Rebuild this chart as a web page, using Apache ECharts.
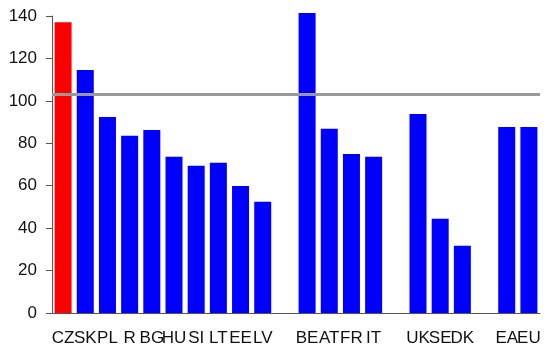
<!DOCTYPE html>
<html>
<head>
<meta charset="utf-8">
<script src="https://cdn.jsdelivr.net/npm/echarts@6/dist/echarts.min.js"></script>
<style>html,body{margin:0;padding:0;background:#fff;}#c{width:544px;height:351px;}</style>
</head>
<body>
<div id="c"></div>
<script>
const categories = ['CZ','SK','PL','R','BG','HU','SI','LT','EE','LV','','BE','AT','FR','IT','','UK','SE','DK','','EA','EU'];
const values = [137.1,114.5,92.4,83.5,86.3,73.6,69.4,70.8,59.9,52.4,null,141.4,86.8,75.0,73.6,null,93.8,44.4,31.7,null,87.7,87.7];
const highlight = 'CZ';
const referenceLevel = 103.3;
const yTicks = [0,20,40,60,80,100,120,140];

const chart = echarts.init(document.getElementById('c'), null, {renderer:'canvas'});
chart.setOption({
  animation:false,
  grid:{left:52,right:4,top:16,bottom:38,containLabel:false},
  xAxis:{
    type:'category',
    data:categories,
    boundaryGap:true,
    axisLine:{show:true,lineStyle:{color:'#555',width:1}},
    axisTick:{show:false},
    axisLabel:{interval:0,margin:17,color:'#111',fontFamily:'Liberation Sans, Arial, sans-serif',fontSize:17}
  },
  yAxis:{
    type:'value',
    min:yTicks[0],max:yTicks[yTicks.length-1],interval:20,
    splitLine:{show:false},
    axisLine:{show:true,lineStyle:{color:'#555',width:1}},
    axisTick:{show:true,length:6,lineStyle:{color:'#555'}},
    axisLabel:{margin:15,color:'#111',fontFamily:'Liberation Sans, Arial, sans-serif',fontSize:17}
  },
  series:[{
    type:'bar',
    barWidth:17,
    clip:false,
    data:values.map((v,i)=>({value:v,itemStyle:{color:categories[i]===highlight?'#ff0000':'#0000ff'}})),
    markLine:{
      symbol:'none',
      silent:true,
      label:{show:false},
      lineStyle:{color:'#999',width:3,type:'solid'},
      data:[{yAxis:referenceLevel}]
    }
  }]
});
</script>
</body>
</html>
